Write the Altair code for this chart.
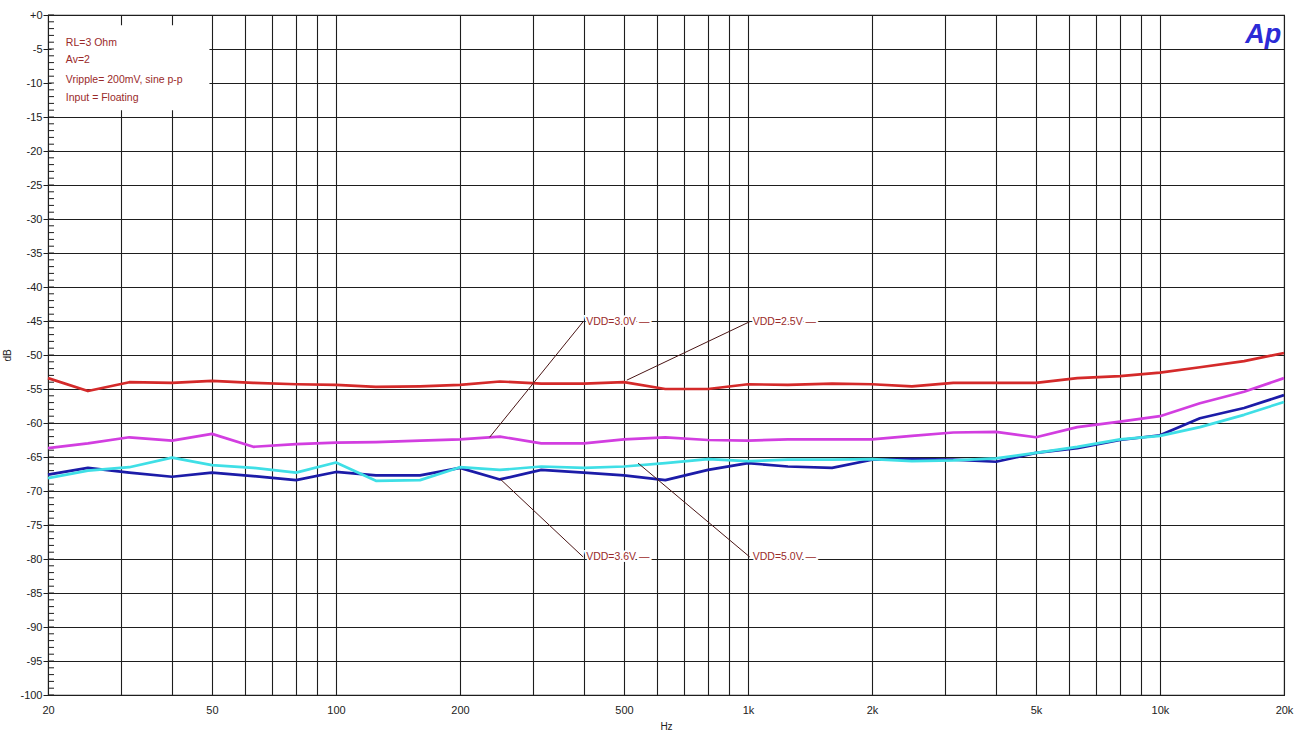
import altair as alt
import pandas as pd

# ---------------- data ----------------
freq = [20, 25, 31.5, 40, 50, 63, 80, 100, 125, 160, 200, 250, 315, 400, 500, 630,
        800, 1000, 1250, 1600, 2000, 2500, 3150, 4000, 5000, 6300, 8000, 10000,
        12500, 16000, 20000]

vdd_25 = [-53.4, -55.3, -54.0, -54.1, -53.8, -54.1, -54.3, -54.4, -54.7, -54.6, -54.4,
          -53.9, -54.2, -54.2, -54.0, -55.0, -55.0, -54.3, -54.4, -54.2, -54.3, -54.6,
          -54.1, -54.1, -54.1, -53.4, -53.1, -52.6, -51.8, -50.9, -49.7]
vdd_30 = [-63.7, -63.0, -62.1, -62.6, -61.6, -63.5, -63.1, -62.9, -62.8, -62.6, -62.4,
          -62.0, -63.0, -63.0, -62.4, -62.1, -62.5, -62.6, -62.4, -62.4, -62.4, -61.9,
          -61.4, -61.3, -62.1, -60.6, -59.8, -59.0, -57.1, -55.4, -53.4]
vdd_36 = [-67.6, -66.6, -67.3, -67.9, -67.3, -67.8, -68.4, -67.2, -67.7, -67.7, -66.6,
          -68.3, -66.9, -67.3, -67.7, -68.4, -66.9, -65.9, -66.4, -66.6, -65.4, -65.3,
          -65.4, -65.7, -64.4, -63.7, -62.5, -61.8, -59.3, -57.8, -55.9]
vdd_50 = [-68.1, -67.0, -66.5, -65.1, -66.2, -66.6, -67.3, -65.8, -68.5, -68.4, -66.5,
          -66.9, -66.4, -66.6, -66.4, -65.9, -65.3, -65.6, -65.4, -65.4, -65.3, -65.6,
          -65.5, -65.2, -64.4, -63.5, -62.4, -61.9, -60.6, -58.8, -56.9]

series_names = ["VDD=2.5V", "VDD=3.0V", "VDD=3.6V", "VDD=5.0V"]
series_values = [vdd_25, vdd_30, vdd_36, vdd_50]
series_colors = ["#d42a2a", "#d23ee0", "#1c1ca8", "#3fdfe6"]

# x-axis grid positions and labelled ticks
grid_x = [20, 30, 40, 50, 60, 70, 80, 90, 100, 200, 300, 400, 500, 600, 700, 800, 900,
          1000, 2000, 3000, 4000, 5000, 6000, 7000, 8000, 9000, 10000, 20000]
label_x = [20, 50, 100, 200, 500, 1000, 2000, 5000, 10000, 20000]
grid_y = list(range(-100, 1, 5))
minor_y = list(range(-100, 1, 1))

# annotations (callouts)
ann_text = ["VDD=3.0V \u2014", "VDD=2.5V \u2014", "VDD=3.6V \u2014", "VDD=5.0V \u2014"]
ann_text_f = [398, 1010, 398, 1010]
ann_text_db = [-45.1, -45.1, -79.7, -79.7]
ann_tip_f = [236, 508, 250, 541]
ann_tip_db = [-62.1, -53.7, -68.2, -65.9]

# top-left notes
note_lines = ["RL=3 Ohm", "Av=2", "Vripple= 200mV, sine p-p", "Input = Floating"]
note_f = [22.1, 22.1, 22.1, 22.1]
note_db = [-4.1, -6.6, -9.5, -12.2]
note_box_f = [20.4, 49.3]
note_box_db = [-1.5, -14.0]

FONT = "Liberation Sans Narrow, Liberation Sans, Arial"
TXT = "#9a2a2a"

# ---------------- scales / axes ----------------
xs = alt.Scale(type="log", domain=[20, 20000], nice=False)
ys = alt.Scale(domain=[-100, 0], nice=False, zero=False)

lab_list = ",".join(str(v) for v in label_x)
x_axis = alt.Axis(
    values=grid_x,
    labelExpr=("indexof([" + lab_list + "], datum.value) >= 0 ? "
               "(datum.value >= 1000 ? toString(datum.value / 1000) + 'k' : toString(datum.value)) : ''"),
    grid=True, ticks=False, domain=True, title="Hz",
    labelFlush=False, labelOverlap=False, labelPadding=9, titlePadding=6,
    labelFont=FONT, titleFont=FONT, labelFontSize=11, titleFontSize=10,
    labelColor="#222", titleColor="#222", titleFontWeight="normal",
    gridColor="#1e1e1e", gridWidth=1.1, domainColor="#1e1e1e",
)
y_axis = alt.Axis(
    values=grid_y,
    labelExpr="datum.value == 0 ? '+0' : toString(datum.value)",
    grid=True, ticks=True, tickSize=5, tickColor="#1e1e1e", domain=True, title="dB",
    labelPadding=1, titlePadding=7, labelOverlap=False, labelFlush=False,
    labelFont=FONT, titleFont=FONT, labelFontSize=11, titleFontSize=10,
    labelColor="#222", titleColor="#222", titleFontWeight="normal",
    gridColor="#1e1e1e", gridWidth=1.1, domainColor="#1e1e1e",
)


def X(field):
    return alt.X(field, scale=xs, axis=x_axis, title="Hz")


def Y(field):
    return alt.Y(field, scale=ys, axis=y_axis, title="dB")


layers = []

# white box behind the notes
box = pd.DataFrame({"f1": [note_box_f[0]], "f2": [note_box_f[1]],
                    "d1": [note_box_db[0]], "d2": [note_box_db[1]]})
layers.append(alt.Chart(box).mark_rect(color="white").encode(
    x=X("f1:Q"), x2="f2:Q", y=Y("d1:Q"), y2="d2:Q"))

# minor ticks on the y axis (inside)
mt = pd.DataFrame({"db": minor_y})
layers.append(alt.Chart(mt).mark_rule(color="#1e1e1e", strokeWidth=1).encode(
    y=Y("db:Q"), x=alt.value(0), x2=alt.value(6)))

# curves
for i in range(4):
    df = pd.DataFrame({"f": freq, "db": series_values[i]})
    layers.append(alt.Chart(df).mark_line(color=series_colors[i], strokeWidth=2.7,
                                          strokeJoin="round").encode(
        x=X("f:Q"), y=Y("db:Q")))

# callout lines and labels (white halo behind text hides the grid)
ann = pd.DataFrame({"t": ann_text, "tf": ann_text_f, "td": ann_text_db,
                    "pf": ann_tip_f, "pd": ann_tip_db})
layers.append(alt.Chart(ann).mark_rule(color="#4a1515", strokeWidth=1).encode(
    x=X("tf:Q"), x2="pf:Q", y=Y("td:Q"), y2="pd:Q"))
layers.append(alt.Chart(ann).mark_text(align="left", baseline="middle", dx=3,
                                       font=FONT, fontSize=10.5, color="white",
                                       stroke="white", strokeWidth=4).encode(
    x=X("tf:Q"), y=Y("td:Q"), text="t:N"))
layers.append(alt.Chart(ann).mark_text(align="left", baseline="middle", dx=3,
                                       font=FONT, fontSize=10.5, color=TXT).encode(
    x=X("tf:Q"), y=Y("td:Q"), text="t:N"))

# notes
notes = pd.DataFrame({"t": note_lines, "f": note_f, "db": note_db})
layers.append(alt.Chart(notes).mark_text(align="left", baseline="middle",
                                         font=FONT, fontSize=10.5, color=TXT).encode(
    x=X("f:Q"), y=Y("db:Q"), text="t:N"))

# Ap logo
logo = pd.DataFrame({"t": ["Ap"], "f": [19700], "db": [-3.0]})
layers.append(alt.Chart(logo).mark_text(align="right", baseline="middle",
                                        font="Liberation Sans, Arial", fontSize=27,
                                        fontStyle="italic", fontWeight="bold",
                                        color="#2b2bd6").encode(
    x=X("f:Q"), y=Y("db:Q"), text="t:N"))

chart = alt.layer(*layers).properties(
    width=1236, height=680,
    autosize="none",
    padding={"left": 48, "top": 15, "right": 10, "bottom": 47},
    background="white",
).configure_view(stroke="#1e1e1e", strokeWidth=1.1)

chart.save("out.html", embed_options={"renderer": "svg", "actions": False})
